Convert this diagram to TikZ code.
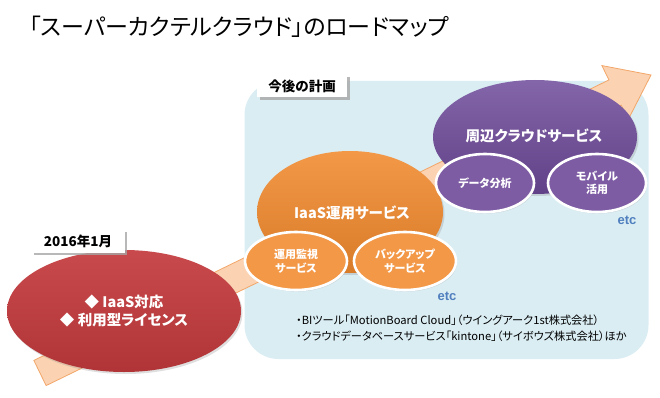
\documentclass[tikz,border=0pt]{standalone}
\usepackage{fontspec}
\setmainfont{Noto Sans CJK JP}
\newfontfamily\palfont[RawFeature=+palt]{Noto Sans CJK JP}
\newfontfamily\etcfont{Liberation Sans}
\usepackage{tikz}
\usetikzlibrary{calc,shapes.geometric,shadows}
\definecolor{PlanBlue}{HTML}{DAEDF3}
\definecolor{RoadFill}{HTML}{FBD3B2}
\definecolor{RoadEdge}{HTML}{F2A669}
\definecolor{StepRed}{HTML}{C43A3D}
\definecolor{StepOrange}{HTML}{F18A2E}
\definecolor{StepPurple}{HTML}{6E4A9A}
\definecolor{EtcBlue}{HTML}{4F7FBE}
\tikzset{
  bigoval/.style={ellipse, draw=none, text=white, font=\palfont\bfseries\fontsize{14.5}{18}\selectfont,
    align=center, inner sep=0pt, drop shadow={opacity=0.25, shadow xshift=1.5pt, shadow yshift=-2pt}},
  ovaltitle/.style={text=white, font=\palfont\bfseries\fontsize{14.5}{18}\selectfont},
  smalloval/.style={ellipse, draw=white, line width=2.6pt, text=white,
    font=\palfont\bfseries\fontsize{11}{13.5}\selectfont, align=center, inner sep=0pt,
    drop shadow={opacity=0.25, shadow xshift=1pt, shadow yshift=-1.5pt}},
  stamp/.style={draw=none, fill=white, font=\bfseries\fontsize{13.5}{16}\selectfont,
    inner sep=0pt, drop shadow={fill=gray!70, opacity=0.8, shadow xshift=2.5pt, shadow yshift=-2.5pt}},
  etclabel/.style={text=EtcBlue, font=\etcfont\bfseries\fontsize{13}{15}\selectfont}
}

\begin{document}
\begin{tikzpicture}[x=1pt, y=-1pt,
  roadarrow/.style={fill=RoadFill, draw=RoadEdge, line width=0.8pt, line join=miter},
  noteline/.style={anchor=west, font=\palfont\fontsize{11.2}{13}\selectfont, inner sep=0pt}
]
\useasboundingbox (0,0) rectangle (660,398);

\node[anchor=west, font=\palfont\fontsize{23}{26}\selectfont, inner sep=0pt] at (29,27) (title)
  {「スーパーカクテルクラウド」のロードマップ};

% Plan area behind the future services
\node[fill=PlanBlue, rounded corners=34pt, minimum width=404pt, minimum height=278pt,
  inner sep=0pt] at (446.5,220) (planarea) {};

% Roadmap arrow: tail at lower left, head at upper right
\coordinate (atail) at (40,373);
\coordinate (ahead) at (651,75);
\coordinate (abase) at ($(ahead)!40pt!(atail)$);
\draw[roadarrow] ($(atail)!14pt!90:(ahead)$) -- ($(abase)!14pt!-90:(atail)$)
  -- ($(abase)!30pt!-90:(atail)$) -- (ahead) -- ($(abase)!30pt!90:(atail)$)
  -- ($(abase)!14pt!90:(atail)$) -- ($(atail)!14pt!-90:(ahead)$) -- cycle;

% Current offer
\node[bigoval, top color=StepRed!92!white, bottom color=StepRed!90!black,
  minimum width=234pt, minimum height=122pt] at (124,311) (current)
  {◆ IaaS対応\\◆ 利用型ライセンス};
\node[stamp, minimum width=93pt, minimum height=23pt] at (78,241) (start) {2016年1月};

% IaaS operation services
\node[bigoval, top color=StepOrange!88!white, bottom color=StepOrange!90!black,
  minimum width=186pt, minimum height=122pt] at (350,212) (iaasops) {};
\node[ovaltitle] at (352,213) (iaastext) {IaaS運用サービス};
\node[smalloval, fill=StepOrange!88!white, minimum width=102pt, minimum height=58pt]
  at (296,261) (monitor) {運用監視\\サービス};
\node[smalloval, fill=StepOrange!88!white, minimum width=102pt, minimum height=58pt]
  at (405,261) (backup) {バックアップ\\サービス};
\node[etclabel] at (447,296) (etcops) {etc};

% Peripheral cloud services
\node[bigoval, top color=StepPurple!85!white, bottom color=StepPurple!88!black,
  minimum width=204pt, minimum height=114pt] at (535,137) (periph) {};
\node[ovaltitle] at (534,136) (periphtext) {周辺クラウドサービス};
\node[smalloval, fill=StepPurple!90!white, minimum width=98pt, minimum height=58pt]
  at (485,183) (analysis) {データ分析};
\node[smalloval, fill=StepPurple!90!white, minimum width=98pt, minimum height=58pt]
  at (597,183) (mobile) {モバイル\\活用};
\node[etclabel] at (627,220) (etcperiph) {etc};

\node[stamp, minimum width=90pt, minimum height=23pt] at (302,86) (plan) {今後の計画};

% Partner products
\node[noteline] at (296,320) (partner1) {・BIツール「MotionBoard Cloud」（ウイングアーク1st株式会社）};
\node[noteline] at (296,336) (partner2) {・クラウドデータベースサービス「kintone」（サイボウズ株式会社）ほか};
\end{tikzpicture}
\end{document}
